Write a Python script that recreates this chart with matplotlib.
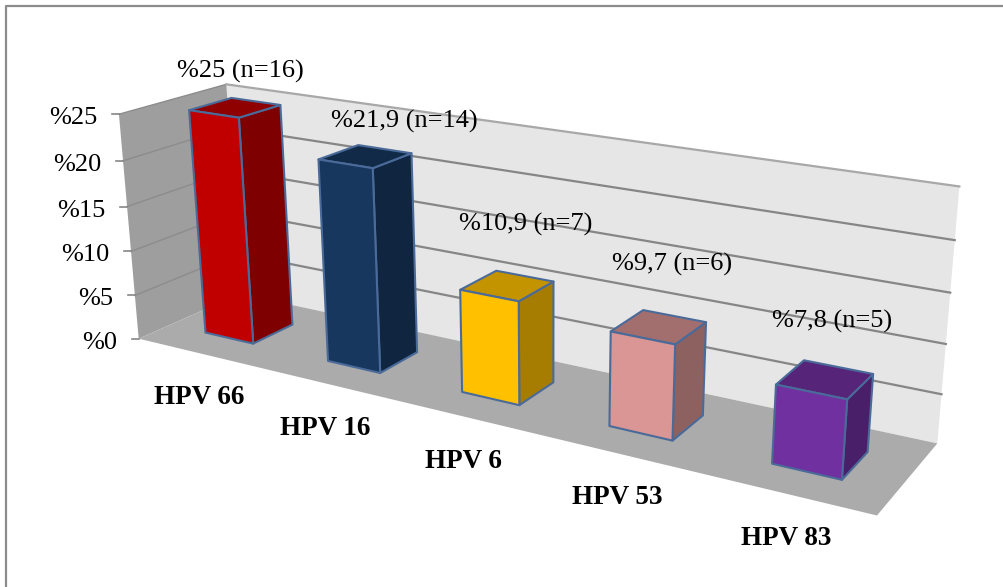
#!/usr/bin/env python3
# -*- coding: utf-8 -*-
import numpy as np
import matplotlib
matplotlib.use("Agg")
import matplotlib.pyplot as plt
from matplotlib.patches import Polygon

plt.rcParams['font.family'] = ['Liberation Serif', 'DejaVu Serif']

categories = ['HPV 66', 'HPV 16', 'HPV 6', 'HPV 53', 'HPV 83']
percent = [25, 21.9, 10.9, 9.7, 7.8]
bar_labels = ['%25 (n=16)', '%21,9 (n=14)', '%10,9 (n=7)', '%9,7 (n=6)', '%7,8 (n=5)']
y_ticks = [0, 5, 10, 15, 20, 25]
y_tick_labels = ['%0', '%5', '%10', '%15', '%20', '%25']

face_colors = ['#C00000', '#17375E', '#FFC000', '#D99694', '#7030A0']
side_colors = ['#7F0000', '#10253F', '#A67D00', '#8E6161', '#491F69']
top_colors = ['#8F0000', '#112A48', '#C49400', '#A36F6E', '#562579']

W, H = 1004, 587
Y_MAX = 25.0
BAR_HALF = 0.04
BAR_V0, BAR_V1 = 0.3, 0.7

# camera for the 3d box: (u, v, w, 1) -> canvas pixels, u along categories,
# v into the depth, w = value / Y_MAX
CAM = np.array([[547.81743, 120.06021, -25.24076, 138.69555],
                [64.85004, -21.95381, -229.73261, 338.67753],
                [-0.21719650, 0.07772171, -0.04610693, 1.0]])


def project(u, v, val):
    p = CAM @ np.array([u, v, val / Y_MAX, 1.0])
    return p[0] / p[2], p[1] / p[2]


def quad(ax, pts, color, z, edge='none', lw=0):
    ax.add_patch(Polygon([project(*p) for p in pts], closed=True, facecolor=color,
                         edgecolor=edge, linewidth=lw, joinstyle='round', zorder=z))


def draw_bar(ax, i, value):
    c = (i + 0.5) / len(percent)
    u0, u1 = c - BAR_HALF, c + BAR_HALF
    v0, v1 = BAR_V0, BAR_V1
    edge = '#4A6A99'
    z = 3 + i
    quad(ax, [(u1, v0, 0), (u1, v1, 0), (u1, v1, value), (u1, v0, value)], side_colors[i], z, edge, 1.5)
    quad(ax, [(u0, v0, value), (u1, v0, value), (u1, v1, value), (u0, v1, value)], top_colors[i], z, edge, 1.5)
    quad(ax, [(u0, v0, 0), (u1, v0, 0), (u1, v0, value), (u0, v0, value)], face_colors[i], z, edge, 1.5)


fig = plt.figure(figsize=(W / 100, H / 100), dpi=100)
ax = fig.add_axes([0, 0, 1, 1])
ax.set_xlim(0, W)
ax.set_ylim(H, 0)
ax.axis('off')

# chart frame, only the top and left sides fall inside the canvas
ax.plot([6, 6, W], [H, 6, 6], color='#8C8C8C', lw=1.6, zorder=0)

# walls and floor
quad(ax, [(0, 1, 0), (1, 1, 0), (1, 1, Y_MAX), (0, 1, Y_MAX)], '#E6E6E6', 1)
quad(ax, [(0, 0, 0), (0, 1, 0), (0, 1, Y_MAX), (0, 0, Y_MAX)], '#9E9E9E', 1)
quad(ax, [(0, 0, 0), (1, 0, 0), (1, 1, 0), (0, 1, 0)], '#ABABAB', 1)

# gridlines run along the back wall and down the side wall
for t in y_ticks:
    a, b, c = project(0, 0, t), project(0, 1, t), project(1, 1, t)
    back_color = '#A8A8A8' if t == Y_MAX else '#868686'
    if t > 0:
        ax.plot([a[0], b[0]], [a[1], b[1]], color='#8C8C8C', lw=1.0, zorder=2)
        ax.plot([b[0], c[0]], [b[1], c[1]], color=back_color, lw=1.6, zorder=2)
    ax.plot([a[0] - 7, a[0]], [a[1], a[1]], color='#868686', lw=1.2, zorder=2)

for i, value in enumerate(percent):
    draw_bar(ax, i, value)

# value axis labels
for t, lab in zip(y_ticks, y_tick_labels):
    x, y = project(0, 0, t)
    ax.text(x - 22, y + 4, lab, ha='right', va='center', fontsize=19, color='black', zorder=20)

# category labels below the front edge
for i, lab in enumerate(categories):
    x, y = project((i + 0.5) / len(categories), 0, 0)
    ax.text(x + 1, y + 45, lab, ha='center', va='center', fontsize=19.5, fontweight='bold', color='black', zorder=20)

# data labels, hand placed relative to the top of each bar
label_shift = [(5, -36), (39, -35), (18, -61), (13, -62), (7, -58)]
for i, lab in enumerate(bar_labels):
    x, y = project((i + 0.5) / len(percent), 0.5, percent[i])
    dx, dy = label_shift[i]
    ax.text(x + dx, y + dy, lab, ha='center', va='center', fontsize=19, color='black', zorder=20)

fig.savefig('out.png', dpi=100)
